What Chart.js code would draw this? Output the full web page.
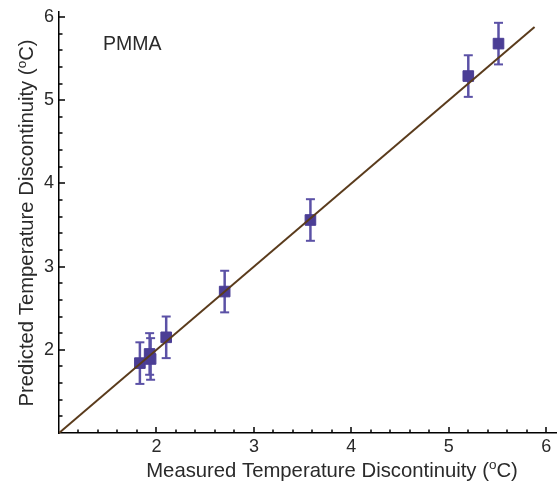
<!DOCTYPE html>
<html>
<head>
<meta charset="utf-8">
<script src="https://cdn.jsdelivr.net/npm/chart.js@4.4.0/dist/chart.umd.min.js"></script>
<style>
  html, body { margin: 0; padding: 0; background: #fff; }
</style>
</head>
<body>
<canvas id="pmma-chart" width="560" height="483"></canvas>
<script>
// measured vs predicted temperature discontinuity (PMMA)

// measured (x) and predicted (y) values with error
const measured = [1.83, 1.93, 1.94, 2.10, 2.70, 3.58, 5.20, 5.51];
const predicted = [1.84, 1.95, 1.89, 2.15, 2.70, 3.56, 5.29, 5.68];
const errors = [0.25, 0.25, 0.25, 0.25, 0.25, 0.25, 0.25, 0.25];

// y = x line
const fitX = [1, 5.88];
const fitY = [1, 5.88];

// tick labels
const xTicks = [2, 3, 4, 5, 6];
const yTicks = [2, 3, 4, 5, 6];

const fontFamily = '"Liberation Sans", Arial, sans-serif';
const titleFont = '20.3px ' + fontFamily;
const supFont = '13.5px ' + fontFamily;
const tickFont = '18px ' + fontFamily;
const textColor = '#2a2a2a';

// square colour, error bar colour
const squareColor = '#4b3e95';
const errColor = '#5b51a6';

const points = measured.map((x, i) => ({ x: x, y: predicted[i] }));

// one small dataset per error bar, caps with 'line' point style
const errSets = measured.map((x, i) => ({
  type: 'line',
  data: [
    { x: x, y: predicted[i] - errors[i] },
    { x: x, y: predicted[i] + errors[i] },
  ],
  borderColor: errColor,
  borderWidth: 2.5,
  pointStyle: 'line',
  pointRadius: 4.5,
  pointBorderWidth: 2,
  pointBorderColor: errColor,
  order: 2,
}));

// draw "... (oC)" with raised small o, centred on x
function drawTitle(ctx, parts, x, y) {
  let total = 0;
  parts.forEach((p) => {
    ctx.font = p.sup ? supFont : titleFont;
    total += ctx.measureText(p.t).width;
  });
  let cx = x - total / 2;
  parts.forEach((p) => {
    ctx.font = p.sup ? supFont : titleFont;
    ctx.fillText(p.t, cx, p.sup ? y - 7.5 : y);
    cx += ctx.measureText(p.t).width;
  });
}

// inward ticks (every 0.2), x tick labels, axis titles, PMMA label
const decorations = {
  id: 'decorations',
  afterDraw(chart) {
    const ctx = chart.ctx;
    const area = chart.chartArea;
    const xs = chart.scales.x;
    const ys = chart.scales.y;

    ctx.save();
    ctx.fillStyle = '#000';
    for (let i = 6; i <= 30; i++) {
      const v = i / 5;
      const len = i % 5 === 0 ? 6 : 3.5;
      const px = Math.round(xs.getPixelForValue(v));
      ctx.fillRect(px - 0.75, area.bottom - len, 1.5, len);
      const py = Math.round(ys.getPixelForValue(v));
      if (py >= area.top) {
        ctx.fillRect(area.left, py - 0.75, len, 1.5);
      }
    }

    ctx.fillStyle = textColor;
    ctx.font = tickFont;
    ctx.textAlign = 'center';
    ctx.textBaseline = 'middle';
    xTicks.forEach((v) => {
      ctx.fillText(String(v), xs.getPixelForValue(v), area.bottom + 14);
    });

    ctx.textBaseline = 'alphabetic';
    ctx.textAlign = 'left';
    drawTitle(ctx, [
      { t: 'Measured Temperature Discontinuity (' },
      { t: 'o', sup: true },
      { t: 'C)' },
    ], 332, 476.5);

    ctx.font = '19.5px ' + fontFamily;
    ctx.fillText('PMMA', 103, 50);

    ctx.translate(33, 223);
    ctx.rotate(-Math.PI / 2);
    drawTitle(ctx, [
      { t: 'Predicted Temperature Discontinuity (' },
      { t: 'o', sup: true },
      { t: 'C)' },
    ], 0, 0);
    ctx.restore();
  },
};

// no automatic padding from the scales
function noPad(scale) {
  scale.paddingTop = 0;
  scale.paddingBottom = 0;
  scale.paddingLeft = 0;
  scale.paddingRight = 0;
}

new Chart(document.querySelector('#pmma-chart'), {
  type: 'scatter',
  data: {
    datasets: [
      {
        type: 'line',
        data: fitX.map((x, i) => ({ x: x, y: fitY[i] })),
        borderColor: '#5a3b1c',
        borderWidth: 2,
        pointRadius: 0,
        order: 0,
      },
      {
        data: points,
        pointStyle: 'rect',
        pointRadius: 7.5,
        backgroundColor: squareColor,
        borderColor: squareColor,
        borderWidth: 1,
        order: 1,
      },
      ...errSets,
    ],
  },
  options: {
    responsive: false,
    animation: false,
    layout: {
      autoPadding: false,
      padding: { top: 12, right: 4, left: 0, bottom: 0 },
    },
    plugins: {
      legend: { display: false },
      tooltip: { enabled: false },
    },
    scales: {
      x: {
        type: 'linear',
        min: 1,
        max: 6.1,
        grid: { display: false, drawTicks: false },
        border: { display: true, color: '#000', width: 1.5 },
        afterFit: (scale) => {
          scale.height = 50;
          noPad(scale);
        },
        ticks: { display: false },
      },
      y: {
        type: 'linear',
        min: 1,
        max: 6.06,
        grid: { display: false, drawTicks: false },
        border: { display: true, color: '#000', width: 1.5 },
        afterBuildTicks: (scale) => {
          scale.ticks = yTicks.map((v) => ({ value: v }));
        },
        afterFit: (scale) => {
          scale.width = 59;
          noPad(scale);
        },
        ticks: {
          autoSkip: false,
          padding: 5,
          color: textColor,
          font: { family: fontFamily, size: 18 },
        },
      },
    },
  },
  plugins: [decorations],
});
</script>
</body>
</html>
